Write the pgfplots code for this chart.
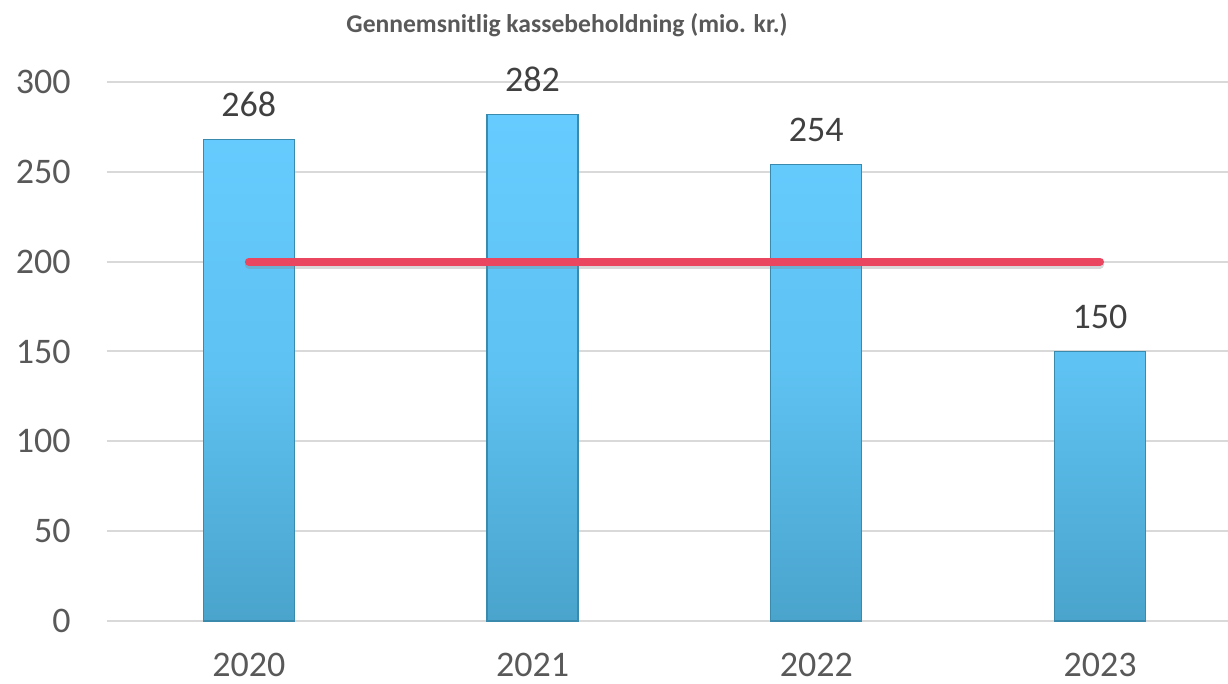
\documentclass[border=0pt]{standalone}
\usepackage{pgfplots}
\pgfplotsset{compat=1.18}
\usepackage{fontspec}
\setmainfont{Carlito}
\definecolor{bartop}{HTML}{66CCFF}
\definecolor{barmid}{HTML}{5EC2F2}
\definecolor{barbot}{HTML}{4AA4CC}
\definecolor{baredge}{HTML}{3A8AAE}
\definecolor{redline}{HTML}{EA4660}
\definecolor{gridc}{HTML}{D9D9D9}
\definecolor{tickc}{HTML}{595959}
\definecolor{labc}{HTML}{404040}
\begin{document}
\begin{tikzpicture}
\useasboundingbox (0,0) rectangle (614pt,342pt);
\node[anchor=base, font=\fontsize{12.8}{14}\selectfont\bfseries, text=tickc, inner sep=0] at (283.5pt,325.5pt) {Gennemsnitlig kassebeholdning (mio. kr.)};
\begin{axis}[
  at={(53.5pt,31.5pt)}, anchor=south west,
  scale only axis, width=560.5pt, height=269.5pt,
  xmin=-0.5, xmax=3.451, ymin=0, ymax=300,
  xtick={0,1,2,3}, xticklabels={2020,2021,2022,2023},
  ytick={0,50,...,300},
  axis line style={draw=none},
  major tick length=0pt,
  ymajorgrids, grid style={gridc, line width=1pt},
  tick label style={font=\fontsize{18}{20}\selectfont, text=tickc},
  /pgf/number format/assume math mode=true,
  yticklabel style={anchor=east, inner sep=0pt, xshift=-18pt},
  xticklabel style={anchor=north, inner sep=0pt, yshift=-16pt},
  clip=false,
]
\addplot[ybar, bar width=45.5pt, draw=baredge, line width=0.6pt,
  top color=bartop, bottom color=barbot, middle color=barmid,
  nodes near coords,
  every node near coord/.append style={font=\fontsize{18}{20}\selectfont, text=labc, anchor=south, inner sep=0pt, yshift=11pt}]
  coordinates {(0,268) (1,282) (2,254) (3,150)};
\addplot[gray, opacity=0.3, line width=4pt, line cap=round, yshift=-1.5pt, forget plot] coordinates {(0,200) (3,200)};
\addplot[redline, line width=4pt, line cap=round] coordinates {(0,200) (3,200)};
\end{axis}
\end{tikzpicture}
\end{document}
